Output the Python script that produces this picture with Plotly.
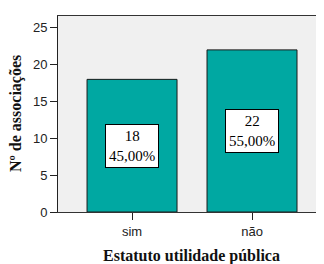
import plotly.graph_objects as go

categories = ["sim", "não"]
counts = [18, 22]
percents = ["45,00%", "55,00%"]

serif = "Liberation Serif, Times New Roman, serif"

fig = go.Figure()
fig.add_trace(go.Bar(
    x=categories, y=counts, width=0.75,
    marker=dict(color="#00A8A2", line=dict(color="#1a1a1a", width=1)),
    hoverinfo="skip",
))
for c, v, p in zip(categories, counts, percents):
    fig.add_annotation(
        x=c, y=v / 2, text=f"{v}<br>{p}", showarrow=False,
        font=dict(family=serif, size=15, color="black"),
        bgcolor="white", bordercolor="black", borderwidth=1, borderpad=3,
    )

# axis titles as annotations (positions in paper coords)
fig.add_annotation(
    xref="paper", yref="paper", x=0.5, y=0, yanchor="top", yshift=-33,
    text="<b>Estatuto utilidade pública</b>", showarrow=False,
    font=dict(family=serif, size=16, color="#111"),
)
fig.add_annotation(
    xref="paper", yref="paper", x=0, y=0.5, xanchor="center", xshift=-42,
    text="<b>Nº de associações</b>", showarrow=False, textangle=-90,
    font=dict(family=serif, size=16, color="#111"),
)

# page body has an 8px default margin, so the figure is sized to fill the rest
fig.update_layout(
    width=316, height=256,
    margin=dict(l=50, r=0, t=8, b=52, autoexpand=False),
    paper_bgcolor="white", plot_bgcolor="#F0F0F0",
    showlegend=False,
    font=dict(family="Liberation Sans, Arial, sans-serif", size=13, color="#222"),
)
fig.update_xaxes(
    range=[-0.617, 1.6], showline=True, linecolor="#333", linewidth=1, mirror=True,
    ticks="outside", ticklen=7, tickcolor="#222", showgrid=False, automargin=False,
)
fig.update_yaxes(
    range=[0, 26.6], showline=True, linecolor="#222", linewidth=1,
    ticks="outside", ticklen=7, tickcolor="#222", showgrid=False, zeroline=False,
    tickvals=[0, 5, 10, 15, 20, 25], automargin=False,
)
fig.write_html("out.html")
